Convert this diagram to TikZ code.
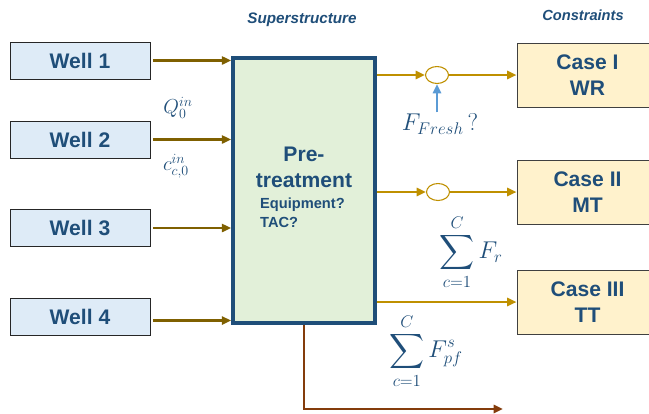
\documentclass[tikz,border=0pt]{standalone}
\usepackage{amsmath}
\usepackage{exscale}
\usepackage{fontspec}
\setmainfont{Liberation Sans}
\usepackage{xcolor}
\usetikzlibrary{arrows.meta, positioning, shapes.geometric}
\definecolor{navy}{HTML}{1F4E79}
\definecolor{wellblue}{HTML}{DEEBF7}
\definecolor{pregreen}{HTML}{E2F0D9}
\definecolor{caseyellow}{HTML}{FFF2CC}
\definecolor{inbrown}{HTML}{7F6000}
\definecolor{outgold}{HTML}{BF9000}
\definecolor{freshblue}{HTML}{5B9BD5}
\definecolor{wastebrown}{HTML}{843C0C}

\begin{document}
\begin{tikzpicture}[
  x=0.03cm, y=-0.03cm,
  >={Triangle[length=8pt, width=7pt]},
  big/.style={font=\fontsize{18}{22}\selectfont\bfseries, text=navy},
  well/.style={big, draw=black!85, fill=wellblue, line width=0.8pt,
    minimum width=4.2cm, minimum height=1.11cm},
  cse/.style={big, draw=black!75, fill=caseyellow, line width=0.8pt,
    minimum width=4.23cm, minimum height=1.92cm, align=center},
  prebox/.style={draw=navy, fill=pregreen, line width=3.2pt,
    minimum width=4.26cm, minimum height=7.95cm},
  mixer/.style={ellipse, draw=outgold, fill=white, line width=0.9pt,
    minimum width=0.69cm, minimum height=0.51cm, inner sep=0pt},
  head/.style={font=\fontsize{13}{15}\selectfont\bfseries\itshape, text=navy},
  mathlab/.style={text=navy, font=\LARGE, inner sep=1pt},
  inarr/.style={->, draw=inbrown, line width=2pt},
  outarr/.style={->, draw=outgold, line width=2pt},
  freshArr/.style={->, draw=freshblue, line width=2.2pt},
  wasteArr/.style={->, draw=wastebrown, line width=2pt}
]
  \clip (0,0) rectangle (649,413);

  % wells
  \node[well] (w1) at (80,60.5) {Well 1};
  \node[well] (w2) at (80,139.5) {Well 2};
  \node[well] (w3) at (80,228) {Well 3};
  \node[well] (w4) at (80,317) {Well 4};

  % superstructure
  \node[prebox] (pre) at (304,190.5) {};
  \node[big, align=center] (pretxt) at (304,167) {Pre-\\treatment};
  \node[text=navy, font=\fontsize{12.5}{16}\selectfont\bfseries, align=left,
    anchor=west] (equip) at (256,213) {Equipment?\\TAC?};
  \node[head] (super) at (302,20) {Superstructure};

  % constraints
  \node[cse] (k1) at (587.5,75) {Case I\\WR};
  \node[cse] (k2) at (587.5,192) {Case II\\MT};
  \node[cse] (k3) at (587.5,302) {Case III\\TT};
  \node[head, font=\fontsize{12.5}{15}\selectfont\bfseries\itshape] (cons)
    at (583,15) {Constraints};

  \node[mixer] (m1) at (437,75) {};
  \node[mixer] (m2) at (438,192) {};

  % labels
  \node[mathlab] (qin) at (178,108) {$Q_0^{in}$};
  \node[mathlab] (cin) at (176,166) {$c_{c,0}^{in}$};
  \node[mathlab, font=\huge] (ff) at (440,124) {$F_{Fresh}\,?$};
  \node[mathlab, font=\huge] (sumr) at (471,252) {$\displaystyle\sum_{c=1}^{C} F_r$};
  \node[mathlab, font=\huge] (sump) at (426,351) {$\displaystyle\sum_{c=1}^{C} F_{pf}^{s}$};

  \coordinate (drain) at (503,409);

  % inflows
  \draw[inarr] ([xshift=2pt]w1.east) -- (w1.east -| pre.west);
  \draw[inarr] ([xshift=2pt]w2.east) -- (w2.east -| pre.west);
  \draw[inarr] ([xshift=2pt]w3.east) -- (w3.east -| pre.west);
  \draw[inarr] ([xshift=2pt,yshift=-3pt]w4.east) -- ([yshift=-3pt]w4.east -| pre.west);

  % outflows
  \draw[outarr] (m1 -| pre.east) -- (m1.west);
  \draw[outarr] (m1.east) -- (k1.west);
  \draw[outarr] (m2 -| pre.east) -- (m2.west);
  \draw[outarr] (m2.east) -- (k2.west);
  \draw[outarr] (k3.west -| pre.east) -- (k3.west);
  \draw[freshArr] (ff.north -| m1) -- (m1.south);
  \draw[wasteArr] (pre.south) |- (drain);
\end{tikzpicture}
\end{document}
